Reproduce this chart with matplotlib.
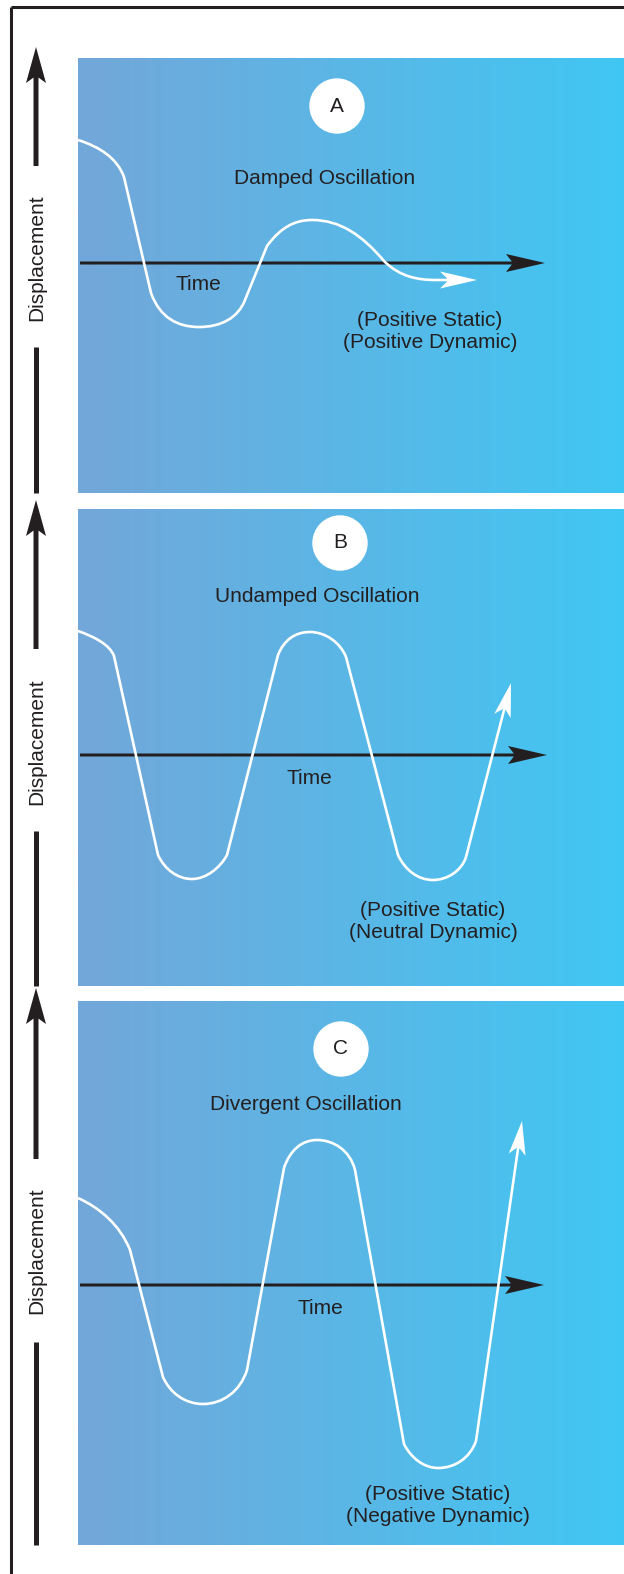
import matplotlib
matplotlib.use('Agg')
import matplotlib.pyplot as plt
import numpy as np
from matplotlib.path import Path
from matplotlib.patches import PathPatch, Circle, FancyArrow
from matplotlib.colors import LinearSegmentedColormap

plt.rcParams['font.family'] = ['Liberation Sans', 'DejaVu Sans']

W, H = 624, 1574
TXT = '#231f20'
bg_cmap = LinearSegmentedColormap.from_list('bg', ['#73a7d9', '#40c7f3'])

# panel frames in picture pixels: top, bottom, y of the time axis
panel_top = [58, 509, 1001]
panel_bottom = [493, 986, 1545]
axis_y = [263, 755, 1285]
panel_left = 78
panel_right = W + 4  # runs off the right edge

# circled letters and titles
letters = ['A', 'B', 'C']
titles = ['Damped Oscillation', 'Undamped Oscillation', 'Divergent Oscillation']
notes = ['(Positive Static)\n(Positive Dynamic)',
         '(Positive Static)\n(Neutral Dynamic)',
         '(Positive Static)\n(Negative Dynamic)']

# label positions (time, displacement) per panel
letter_pos = [(259, 157), (262, 212), (263, 236)]
title_pos = [(247, 85), (239, 159), (228, 181)]
time_pos = [(120, -22), (231, -24), (242, -24)]
note_pos = [(352, -68), (355, -167), (360, -221)]
time_axis_end = [467, 469, 466]

# displacement curves: time / displacement control points, path codes
curve_a_t = [0, 22, 39, 46, 73, 82, 100, 121, 143, 160, 167, 189,
             203, 217, 234, 262, 284, 306, 322, 340, 358]
curve_a_d = [123, 116, 105, 86, -30, -55, -64, -64, -64, -55, -37, 17,
             36, 43, 43, 43, 28, 2, -14, -17, -17]
curve_a_codes = 'MCCCLCCCCCCLCCCCCCCCC'

curve_b_t = [0, 17, 32, 36, 80, 87, 100, 114, 128, 142, 149, 200,
             206, 217, 232, 247, 262, 268, 320, 327, 340, 355, 370, 384, 388]
curve_b_d = [124, 118, 110, 99, -100, -115, -124, -124, -124, -113, -100, 100,
             115, 123, 123, 123, 113, 98, -100, -115, -125, -125, -125, -115, -102]
curve_b_codes = 'MCCCLCCCCCCLCCCCCCLCCCCCC'

curve_c_t = [0, 22, 42, 52, 85, 92, 107, 125, 144, 162, 169, 206,
             212, 224, 239, 255, 272, 277, 326, 333, 346, 360, 377, 392, 398]
curve_c_d = [87, 77, 60, 35, -92, -108, -119, -119, -119, -107, -85, 117,
             135, 145, 145, 145, 135, 115, -159, -173, -183, -183, -183, -173, -156]
curve_c_codes = 'MCCCLCCCCCCLCCCCCCLCCCCCC'

curves = [(curve_a_t, curve_a_d, curve_a_codes),
          (curve_b_t, curve_b_d, curve_b_codes),
          (curve_c_t, curve_c_d, curve_c_codes)]
curve_tip = [(399, -17), (433, 72), (444, 164)]
tip_head = [(17, 37), (17, 34), (17, 34)]

# left "Displacement" arrows: tip, upper shaft end, lower shaft start/end, label y
disp_tip = [47, 500, 988]
disp_upper_end = [166, 649, 1159]
disp_lower = [(347, 493), (831, 986), (1342, 1545)]
disp_label_y = [258, 742, 1251]

code_map = {'M': Path.MOVETO, 'L': Path.LINETO, 'C': Path.CURVE4}

fig = plt.figure(figsize=(W / 100, H / 100), dpi=100)
fig.patch.set_facecolor('white')

# background layer in pixel space (frame lines + left arrows)
ax0 = fig.add_axes([0, 0, 1, 1])
ax0.set_xlim(0, W)
ax0.set_ylim(H, 0)
ax0.axis('off')
ax0.plot([11, W + 5], [7, 7], color=TXT, lw=2.2, solid_capstyle='butt', clip_on=False)
ax0.plot([11, 11], [7, H + 5], color=TXT, lw=2.2, solid_capstyle='butt', clip_on=False)

for i in range(3):
    tip = disp_tip[i]
    up = disp_upper_end[i]
    ax0.add_patch(FancyArrow(36, up, 0, tip - up, width=5, head_width=20, head_length=36,
                             length_includes_head=True, overhang=0.15, color=TXT, lw=0))
    lo0, lo1 = disp_lower[i]
    ax0.plot([36, 36], [lo0, lo1], color=TXT, lw=5 * 0.72, solid_capstyle='butt')
    ax0.text(37, disp_label_y[i], 'Displacement', rotation=90, ha='center', va='center',
             fontsize=15, color=TXT)

for i in range(3):
    top, bot, ay = panel_top[i], panel_bottom[i], axis_y[i]
    pw = panel_right - panel_left
    ax = fig.add_axes([panel_left / W, 1 - bot / H, pw / W, (bot - top) / H])
    ymin, ymax = -(bot - ay), ay - top
    ax.imshow(np.linspace(0, 1, 256).reshape(1, -1), cmap=bg_cmap, aspect='auto',
              extent=(0, pw, ymin, ymax), zorder=0, interpolation='bilinear')
    ax.set_xlim(0, pw)
    ax.set_ylim(ymin, ymax)
    ax.axis('off')

    # time axis
    ax.add_patch(FancyArrow(2, 0, time_axis_end[i] - 2, 0, width=3, head_width=18, head_length=39,
                            length_includes_head=True, overhang=0.15, color=TXT, lw=0, zorder=2))

    # displacement curve
    t, d, codes = curves[i]
    path = Path(list(zip(t, d)), [code_map[c] for c in codes])
    ax.add_patch(PathPatch(path, facecolor='none', edgecolor='white', lw=1.9,
                           capstyle='butt', zorder=3))
    x0, y0 = t[-1], d[-1]
    tx, ty = curve_tip[i]
    hw, hl = tip_head[i]
    ax.add_patch(FancyArrow(x0, y0, tx - x0, ty - y0, width=2.6, head_width=hw, head_length=hl,
                            length_includes_head=True, overhang=0.2, color='white', lw=0, zorder=3))

    # labels
    cx, cy = letter_pos[i]
    ax.add_patch(Circle((cx, cy), 27, color='white', zorder=4))
    ax.text(cx, cy, letters[i], ha='center', va='center', fontsize=15, color=TXT, zorder=5)
    ax.text(*title_pos[i], titles[i], ha='center', va='center', fontsize=15, color=TXT)
    ax.text(*time_pos[i], 'Time', ha='center', va='center', fontsize=15, color=TXT)
    ax.text(*note_pos[i], notes[i], ha='center', va='center', fontsize=15, color=TXT,
            linespacing=1.2)

fig.savefig('out.png', dpi=100)
